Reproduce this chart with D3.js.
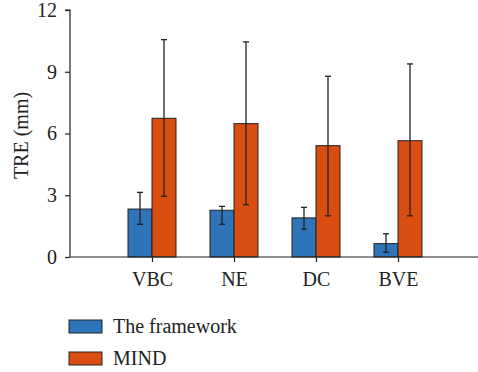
<!DOCTYPE html>
<html>
<head>
<meta charset="utf-8">
<script src="https://cdn.jsdelivr.net/npm/d3@7"></script>
<style>
  body { margin: 0; background: #fff; }
  svg { display: block; font-family: "Liberation Serif", "Times New Roman", serif; }
  svg text { font-family: "Liberation Serif", "Times New Roman", serif; }
</style>
</head>
<body>
<div id="chart"></div>
<script>
const categories = ["VBC", "NE", "DC", "BVE"];
const seriesNames = ["The framework", "MIND"];
const frameworkMean = [2.33, 2.27, 1.90, 0.65];
const frameworkLow = [1.59, 1.59, 1.35, 0.23];
const frameworkHigh = [3.14, 2.46, 2.41, 1.13];
const mindMean = [6.74, 6.48, 5.41, 5.65];
const mindLow = [2.95, 2.54, 2.00, 2.00];
const mindHigh = [10.56, 10.45, 8.78, 9.38];
const yTicks = [0, 3, 6, 9, 12];
const colors = ["#2f74b8", "#d94d10"];

const width = 478, height = 372;
const fontSize = 20;

const svg = d3.select("#chart").append("svg")
  .attr("width", width)
  .attr("height", height);

const x = d3.scaleLinear().domain([0, categories.length + 1]).range([70, 480]);
const y = d3.scaleLinear().domain([0, 12]).range([257, 10]);
const barW = 24;

const series = [
  { name: seriesNames[0], mean: frameworkMean, lo: frameworkLow, hi: frameworkHigh },
  { name: seriesNames[1], mean: mindMean, lo: mindLow, hi: mindHigh }
];

// bars
series.forEach((s, si) => {
  svg.append("g")
    .selectAll("rect")
    .data(categories)
    .join("rect")
      .attr("x", (d, i) => x(i + 1) + (si === 0 ? -barW : 0))
      .attr("y", (d, i) => y(s.mean[i]))
      .attr("width", barW)
      .attr("height", (d, i) => y(0) - y(s.mean[i]))
      .attr("fill", colors[si])
      .attr("stroke", "#222")
      .attr("stroke-width", 1);
});

// error bars
series.forEach((s, si) => {
  const g = svg.append("g").attr("stroke", "#222").attr("stroke-width", 1.3);
  categories.forEach((c, i) => {
    const cx = x(i + 1) + (si === 0 ? -barW / 2 : barW / 2);
    g.append("line").attr("x1", cx).attr("x2", cx).attr("y1", y(s.lo[i])).attr("y2", y(s.hi[i]));
    g.append("line").attr("x1", cx - 3).attr("x2", cx + 3).attr("y1", y(s.lo[i])).attr("y2", y(s.lo[i]));
    g.append("line").attr("x1", cx - 3).attr("x2", cx + 3).attr("y1", y(s.hi[i])).attr("y2", y(s.hi[i]));
  });
});

// y axis
const yAxis = svg.append("g")
  .attr("transform", `translate(70,0)`)
  .call(d3.axisLeft(y).tickValues(yTicks).tickSize(5).tickPadding(8));
yAxis.attr("font-family", null).attr("font-size", fontSize);
yAxis.selectAll("path, line").attr("stroke", "#222").attr("stroke-width", 1.2);
yAxis.select(".domain").attr("d", `M-5,${y(12)}H0V${y(0)}`);
yAxis.selectAll("text").attr("fill", "#222");

// x axis
const xAxis = svg.append("g")
  .attr("transform", `translate(0,${y(0)})`)
  .call(d3.axisBottom(x).tickValues(d3.range(1, categories.length + 1))
    .tickFormat(d => categories[d - 1]).tickSize(5).tickPadding(10));
xAxis.attr("font-family", null).attr("font-size", fontSize);
xAxis.selectAll("path, line").attr("stroke", "#222").attr("stroke-width", 1.2);
xAxis.select(".domain").attr("d", `M70,0H478`);
xAxis.selectAll("text").attr("fill", "#222");

// y label
svg.append("text")
  .attr("transform", `translate(28,${(y(0) + y(12)) / 2 + 2}) rotate(-90)`)
  .attr("text-anchor", "middle")
  .attr("font-size", fontSize)
  .attr("fill", "#222")
  .text("TRE (mm)");

// legend
const legend = svg.append("g");
seriesNames.forEach((name, i) => {
  const ly = 320 + i * 32;
  legend.append("rect")
    .attr("x", 69).attr("y", ly)
    .attr("width", 33).attr("height", 13)
    .attr("fill", colors[i])
    .attr("stroke", "#222").attr("stroke-width", 1);
  legend.append("text")
    .attr("x", 113).attr("y", ly + 13)
    .attr("font-size", fontSize)
    .attr("fill", "#222")
    .text(name);
});
</script>
</body>
</html>
